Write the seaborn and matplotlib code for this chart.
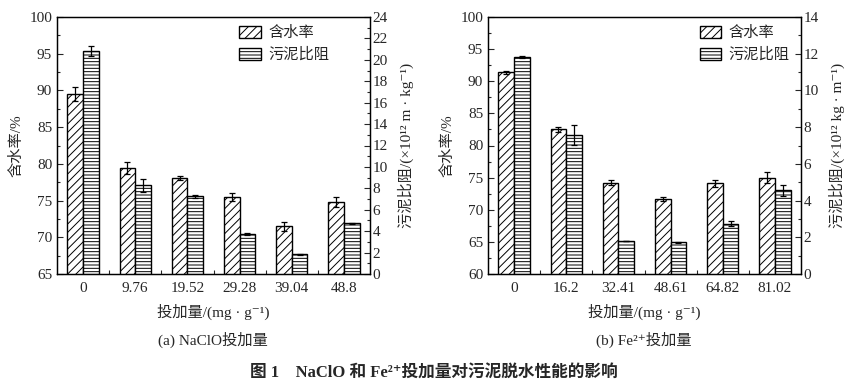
import numpy as np
import pandas as pd
import matplotlib
matplotlib.use("Agg")
import matplotlib.pyplot as plt
import seaborn as sns
from matplotlib.patches import Patch
from matplotlib.ticker import MultipleLocator, FixedLocator

sns.set_style("ticks")
plt.rcParams['font.family'] = ['Liberation Serif', 'Noto Sans CJK SC', 'DejaVu Serif']
plt.rcParams['hatch.linewidth'] = 0.7

# ---- data ----
doses_a = ["0", "9.76", "19.52", "29.28", "39.04", "48.8"]
moist_a = [89.5, 79.4, 78.1, 75.5, 71.5, 74.8]
moist_a_err = [0.9, 0.8, 0.3, 0.5, 0.6, 0.7]
srf_a = [20.8, 8.27, 7.24, 3.73, 1.83, 4.72]
srf_a_err = [0.45, 0.6, 0.15, 0.1, 0.05, 0.03]

doses_b = ["0", "16.2", "32.41", "48.61", "64.82", "81.02"]
moist_b = [91.4, 82.5, 74.2, 71.7, 74.1, 75.0]
moist_b_err = [0.2, 0.35, 0.4, 0.3, 0.55, 0.9]
srf_b = [11.82, 7.58, 1.81, 1.72, 2.74, 4.55]
srf_b_err = [0.03, 0.55, 0.01, 0.04, 0.15, 0.3]

series = ["含水率", "污泥比阻"]
hatches = ["////", "-----"]

fig = plt.figure(figsize=(8.67, 3.87), dpi=100)
H = 387.0
W = 867.0


def panel(left_px, doses, moist, moist_err, srf, srf_err, ylim_l, ylim_r,
          r_major, r_minor, l_minor, rlabel, xlabel, sub, leg_x):
    ax = fig.add_axes([left_px / W, 1 - 274 / H, 313 / W, 257 / H])
    ax2 = ax.twinx()
    dm = pd.DataFrame({"dose": doses, "value": moist, "series": series[0]})
    ds = pd.DataFrame({"dose": doses, "value": srf, "series": series[1]})
    for a, d, err, h in [(ax, dm, moist_err, hatches[0]), (ax2, ds, srf_err, hatches[1])]:
        sns.barplot(data=d, x="dose", y="value", hue="series", hue_order=series,
                    order=doses, width=0.6, dodge=True, ax=a, legend=False,
                    errorbar=None, palette=["white", "white"],
                    edgecolor="black", linewidth=1.0)
        xs = []
        for p in a.patches:
            p.set_hatch(h)
            p.set_edgecolor("black")
            p.set_facecolor("white")
            xs.append(p.get_x() + p.get_width() / 2)
        vals = list(d["value"])
        a.errorbar(xs, vals, yerr=err, fmt="none", ecolor="black",
                   elinewidth=0.9, capsize=2.5, capthick=0.9, zorder=5)
    ax.set_xlim(-0.5, len(doses) - 0.5)
    ax.set_ylim(*ylim_l)
    ax2.set_ylim(*ylim_r)
    ax.yaxis.set_major_locator(MultipleLocator(5))
    ax.yaxis.set_minor_locator(MultipleLocator(l_minor))
    ax2.yaxis.set_major_locator(MultipleLocator(r_major))
    ax2.yaxis.set_minor_locator(MultipleLocator(r_minor))
    ax.xaxis.set_minor_locator(FixedLocator(np.arange(0.5, len(doses) - 0.5, 1)))
    ax.tick_params(axis="x", which="major", length=0, labelsize=11, pad=6)
    ax.tick_params(axis="x", which="minor", direction="in", length=3, width=0.8)
    ax.tick_params(axis="y", which="major", direction="in", length=4, width=0.8, labelsize=11)
    ax.tick_params(axis="y", which="minor", direction="in", length=2.5, width=0.8)
    ax2.tick_params(axis="y", which="major", direction="in", length=4, width=0.8, labelsize=11, pad=2)
    ax2.tick_params(axis="y", which="minor", direction="in", length=2.5, width=0.8)
    for a in (ax, ax2):
        for s in a.spines.values():
            s.set_visible(True)
            s.set_linewidth(0.9)
            s.set_color("black")
    ax.set_xlabel(xlabel, fontsize=11, labelpad=6)
    ax.set_ylabel("含水率/%", fontsize=11, labelpad=4)
    ax2.set_ylabel(rlabel, fontsize=11, rotation=90, labelpad=7)
    handles = [Patch(facecolor="white", edgecolor="black", hatch=hatches[i], label=series[i])
               for i in range(2)]
    ax2.legend(handles=handles, loc="upper left", bbox_to_anchor=(leg_x, 1.02),
               frameon=False, fontsize=11, handlelength=1.4, handleheight=0.85,
               handletextpad=0.5, labelspacing=0.5)
    fig.text((left_px + 156) / W, 1 - 340 / H, sub, ha="center", va="center", fontsize=11)
    return ax


panel(57, doses_a, moist_a, moist_a_err, srf_a, srf_a_err, (65, 100), (0, 24),
      2, 1, 2.5, "污泥比阻/(×10¹² m · kg⁻¹)", "投加量/(mg · g⁻¹)",
      "(a) NaClO投加量", 0.538)
panel(488, doses_b, moist_b, moist_b_err, srf_b, srf_b_err, (60, 100), (0, 14),
      2, 1, 2.5, "污泥比阻/(×10¹² kg · m⁻¹)", "投加量/(mg · g⁻¹)",
      "(b) Fe²⁺投加量", 0.632)

fig.text(0.5, 1 - 374 / H, "图 1    NaClO 和 Fe²⁺投加量对污泥脱水性能的影响",
         ha="center", va="center", fontsize=12, fontweight="bold")

fig.savefig("out.png", dpi=100)
